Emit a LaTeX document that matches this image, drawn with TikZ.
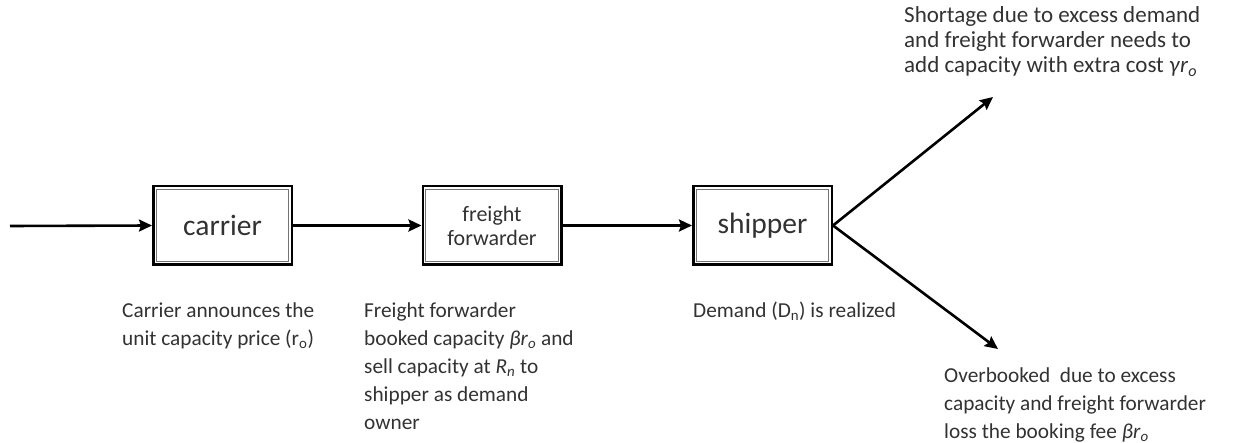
\documentclass[tikz,border=0pt]{standalone}
\usepackage{fontspec}
\setmainfont{Carlito}
\usetikzlibrary{arrows.meta,calc}
\definecolor{txt}{RGB}{50,50,50}
\tikzset{
  stage/.style={draw=black, line width=2.5pt, minimum width=138.5pt, minimum height=78.5pt,
    inner sep=0pt, text=txt, align=center,
    path picture={\draw[black!55, line width=1pt]
      ([shift={(3.2pt,-3.2pt)}]path picture bounding box.north west) rectangle
      ([shift={(-3.2pt,3.2pt)}]path picture bounding box.south east);}},
  flow/.style={line width=2.6pt, -{Stealth[length=13pt,width=12pt,inset=2pt]}},
  note/.style={anchor=base west, align=left, text=txt, inner sep=0pt}
}
\begin{document}
\begin{tikzpicture}[x=1pt,y=-1pt]
\useasboundingbox (0,0) rectangle (1241,443);
\node[stage, font=\fontsize{29.5}{32}\selectfont] (carrier) at (222.5,225.5) {carrier};
\node[stage, font=\fontsize{22}{26}\selectfont] (ff) at (492,225.5) {freight\\[-2pt]forwarder};
\node[stage, font=\fontsize{29.5}{32}\selectfont] (shipper) at (762.5,225.5) {shipper};
\coordinate (in) at (10,226);
\coordinate (up) at (993,97);
\coordinate (down) at (998,349);
\draw[flow] (in) -- (carrier.west);
\draw[flow] (carrier.east) -- (ff.west);
\draw[flow] (ff.east) -- (shipper.west);
\draw[flow] (shipper.east) -- (up);
\draw[flow] (shipper.east) -- (down);
% base anchor of a multi-line node = baseline of its last line
\node[note, font=\fontsize{21.3}{28}\selectfont] (t1) at (122,345)
  {Carrier announces the\\unit capacity price (r\textsubscript{o})};
\node[note, font=\fontsize{21.3}{28}\selectfont] (t2) at (364,429)
  {Freight forwarder\\booked capacity \textit{β}\textit{r}\textsubscript{\textit{o}} and\\sell capacity at \textit{R}\textsubscript{\textit{n}} to\\shipper as demand\\owner};
\node[note, font=\fontsize{21.3}{28}\selectfont] (t3) at (693,317)
  {Demand (D\textsubscript{n}) is realized};
\node[note, font=\fontsize{23}{25}\selectfont] (t4) at (904,73)
  {Shortage due to excess demand\\and freight forwarder needs to\\add capacity with extra cost \textit{γ}\textit{r}\textsubscript{\textit{o}}};
\node[note, font=\fontsize{21.3}{28}\selectfont] (t5) at (944,438)
  {Overbooked\ \ due to excess\\capacity and freight forwarder\\loss the booking fee \textit{β}\textit{r}\textsubscript{\textit{o}}};
\end{tikzpicture}
\end{document}
